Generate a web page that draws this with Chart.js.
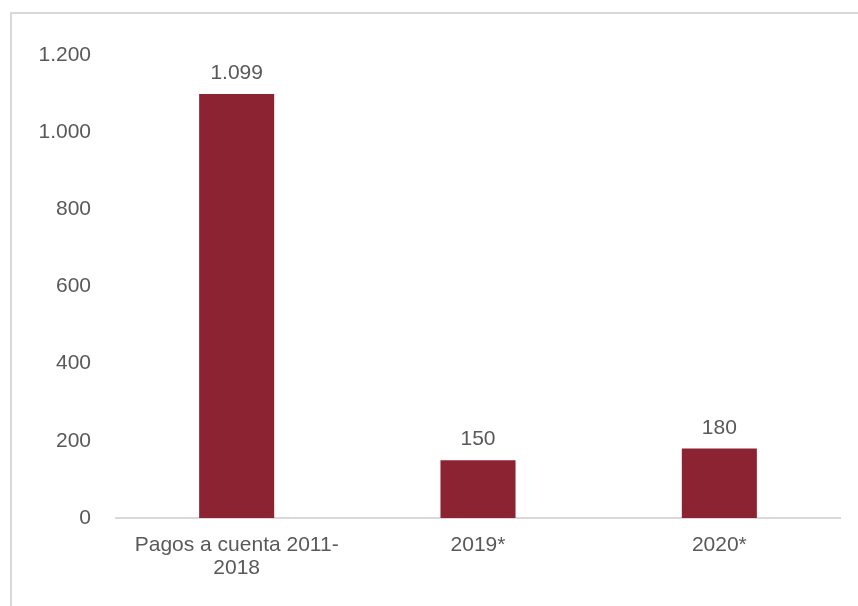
<!DOCTYPE html>
<html>
<head>
<meta charset="utf-8">
<script src="https://cdn.jsdelivr.net/npm/chart.js@4.4.1/dist/chart.umd.min.js"></script>
<style>
  html, body { margin: 0; padding: 0; background: #fff; }
  #wrap { position: relative; width: 858px; height: 606px; }
  #frame { position: absolute; left: 10px; top: 12px; width: 860px; height: 600px;
           border-top: 2px solid #d9d9d9; border-left: 2px solid #d9d9d9; box-sizing: border-box; }
  canvas { position: absolute; left: 0; top: 0; }
</style>
</head>
<body>
<div id="wrap">
  <div id="frame"></div>
  <canvas id="c" width="858" height="606"></canvas>
</div>
<script>
const categories = [["Pagos a cuenta 2011-", "2018"], "2019*", "2020*"];
const values = [1099, 150, 180];
const valueLabels = ["1.099", "150", "180"];
const yTicks = [0, 200, 400, 600, 800, 1000, 1200];

const FONT = "'Liberation Sans', Arial, sans-serif";
const TXT = "#595959";

function fmt(v) {
  return v.toString().replace(/\B(?=(\d{3})+(?!\d))/g, ".");
}

const labelPlugin = {
  id: "valueLabels",
  afterDatasetsDraw(chart) {
    const ctx = chart.ctx;
    const meta = chart.getDatasetMeta(0);
    ctx.save();
    ctx.font = "21px " + FONT;
    ctx.fillStyle = TXT;
    ctx.textAlign = "center";
    ctx.textBaseline = "alphabetic";
    meta.data.forEach((bar, i) => {
      ctx.fillText(valueLabels[i], bar.x, bar.y - 15);
    });
    ctx.restore();
  }
};

new Chart(document.getElementById("c"), {
  type: "bar",
  data: {
    labels: categories,
    datasets: [{
      data: values,
      backgroundColor: "#8b2332",
      barPercentage: 0.311,
      categoryPercentage: 1.0
    }]
  },
  options: {
    responsive: false,
    animation: false,
    layout: { padding: { top: 55, right: 18, bottom: 0, left: 0 } },
    plugins: { legend: { display: false }, tooltip: { enabled: false } },
    scales: {
      x: {
        grid: { display: false, drawTicks: false },
        border: { display: true, color: "#d9d9d9", width: 2 },
        ticks: { color: TXT, font: { family: FONT, size: 21, lineHeight: 1.1 }, padding: 16, maxRotation: 0 },
        afterFit(scale) { scale.height = 88; }
      },
      y: {
        min: 0, max: 1200,
        afterBuildTicks(scale) { scale.ticks = yTicks.map(v => ({ value: v })); },
        grid: { display: false, drawTicks: false },
        border: { display: false },
        ticks: { color: TXT, font: { family: FONT, size: 21 }, padding: 25, callback: v => fmt(v) },
        afterFit(scale) { scale.width = 116; }
      }
    }
  },
  plugins: [labelPlugin]
});
</script>
</body>
</html>
